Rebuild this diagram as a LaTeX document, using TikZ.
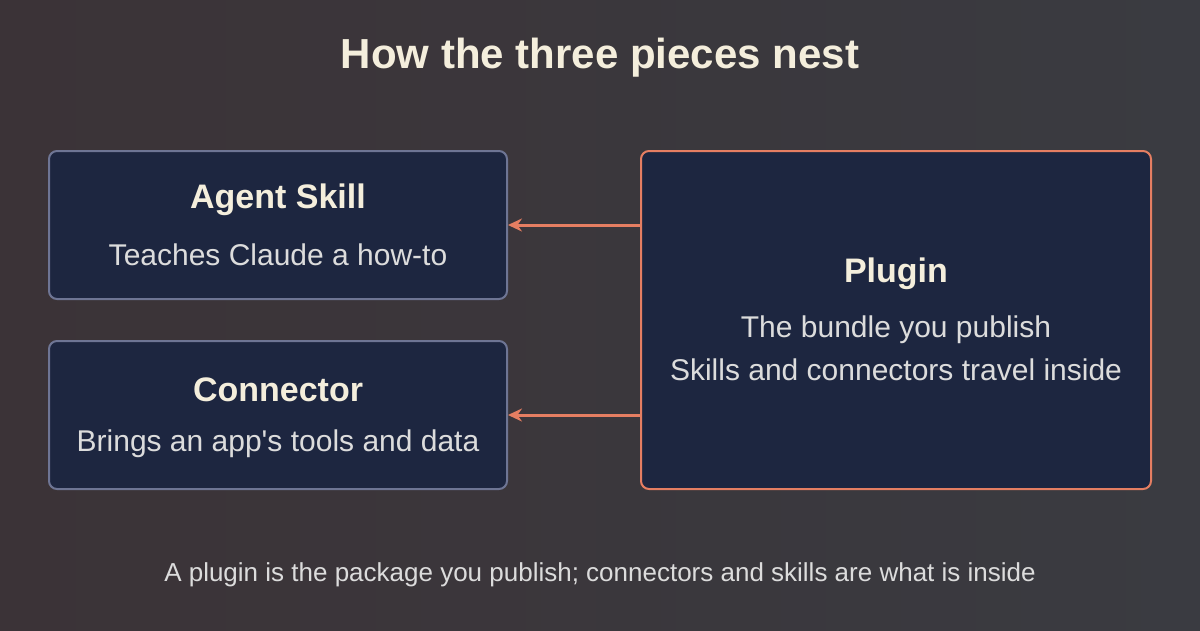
\documentclass[tikz,border=0pt]{standalone}
\usepackage{fontspec}
\setmainfont{Liberation Sans}
\usetikzlibrary{positioning}
\usetikzlibrary{arrows.meta}
\definecolor{bgdark}{HTML}{3A3B41}
\definecolor{bgred}{HTML}{3B3337}
\definecolor{boxfill}{HTML}{1D2640}
\definecolor{boxline}{HTML}{6E7594}
\definecolor{accent}{HTML}{E57E62}
\definecolor{titletext}{HTML}{F4EEDC}
\definecolor{softtext}{HTML}{DCDCDC}

\tikzset{
	piece/.style={draw=boxline, line width=2pt, fill=boxfill, rounded corners=8pt,
		minimum width=458pt, minimum height=148pt, inner sep=0pt},
	head/.style={text=titletext, font=\bfseries\fontsize{34}{40}\selectfont},
	sub/.style={text=softtext, font=\fontsize{30}{36}\selectfont},
	arr/.style={accent, line width=3pt, -{Stealth[length=14pt,width=13pt]}}
}

\begin{document}
\begin{tikzpicture}[x=1pt, y=-1pt]
			\useasboundingbox (0, 0) rectangle (1200, 630);
			\shade[left color=bgred, right color=bgdark] (0, 0) rectangle (1200, 630);

			\node[text=titletext, font=\bfseries\fontsize{42}{48}\selectfont] (title) at (600, 58) {How the three pieces nest};

			\node[piece] (skill) at (278, 225) {};
			\node[piece] (conn) at (278, 415) {};
			\node[piece, draw=accent, minimum width=510pt, minimum height=338pt] (plugin) at (896, 320) {};

			\node[head] (skillhead) at (278, 200) {Agent Skill};
			\node[sub] (skillsub) at (278, 255) {Teaches Claude a how-to};
			\node[head] (connhead) at (278, 390) {Connector};
			\node[sub] (connsub) at (278, 444) {Brings an app\textquotesingle s tools and data};
			\node[head] (pluginhead) at (896, 274) {Plugin};
			\node[sub] (pluginsub1) at (896, 330) {The bundle you publish};
			\node[sub] (pluginsub2) at (896, 370) {Skills and connectors travel inside};

			\draw[arr] (plugin.west |- skill.east) -- (skill.east);
			\draw[arr] (plugin.west |- conn.east) -- (conn.east);

			\node[text=softtext, font=\fontsize{26}{30}\selectfont] (footer) at (600, 575) {A plugin is the package you publish; connectors and skills are what is inside};
		\end{tikzpicture}
\end{document}
